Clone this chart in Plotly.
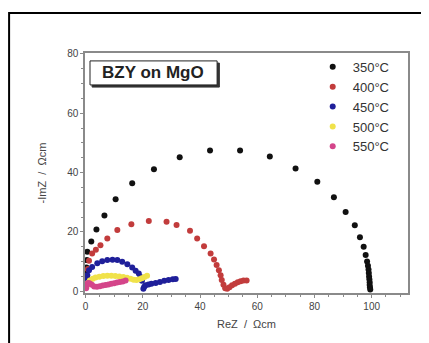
import plotly.graph_objects as go

# 350 °C
x350 = [0.2, 0.3, 0.4, 0.6, 2.0, 3.8, 6.6, 10.5, 16.3, 23.9, 32.9, 43.5, 54.0, 64.4, 73.4,
        81.0, 86.8, 90.9, 94.1, 95.9, 97.2, 97.9, 98.4, 98.7, 98.9, 99.0, 99.1, 99.2, 99.3,
        99.3, 99.4, 99.5]
y350 = [6.0, 8.0, 10.5, 13.3, 16.8, 20.8, 25.5, 31.0, 36.4, 41.1, 45.2, 47.4, 47.4, 45.4, 41.4,
        36.9, 31.7, 26.7, 22.2, 18.2, 15.0, 12.2, 10.0, 8.6, 7.3, 6.1, 5.0, 4.0, 3.0,
        2.1, 1.3, 0.6]
# 400 °C
x400 = [0.3, 0.5, 0.8, 1.2, 2.3, 3.6, 5.2, 7.6, 11.1, 16.0, 22.1, 28.3, 31.8, 36.5, 39.0,
        41.4, 43.7, 44.9, 45.8, 46.6, 47.2, 47.6, 48.2, 48.8, 49.5, 50.3, 51.2, 52.2, 53.2,
        54.2, 55.2, 56.3]
y400 = [3.0, 5.0, 7.5, 10.3, 12.7, 14.0, 15.5, 17.8, 20.6, 22.6, 23.7, 23.4, 22.3, 20.4, 17.8,
        15.2, 12.7, 10.7, 8.8, 7.1, 5.4, 3.8, 2.2, 1.0, 0.8, 1.3, 2.0, 2.5, 3.0,
        3.4, 3.6, 3.6]
# 450 °C
x450 = [0.2, 0.3, 0.6, 1.2, 2.3, 4.1, 5.8, 7.6, 9.4, 11.1, 12.8, 14.6, 16.3, 17.5, 18.6,
        19.2, 19.7, 20.2, 20.5, 21.0, 22.0, 23.0, 24.5, 26.0, 27.5, 29.0, 30.5, 31.5]
y450 = [2.5, 4.0, 5.4, 7.1, 8.2, 9.4, 10.1, 10.5, 10.6, 10.5, 9.9, 9.1, 8.0, 6.9, 6.0,
        4.8, 3.5, 0.8, 1.5, 2.0, 2.3, 2.5, 2.8, 3.1, 3.5, 3.8, 4.0, 4.1]
# 500 °C
x500 = [0.3, 0.8, 1.5, 2.5, 3.5, 4.8, 6.2, 7.6, 9.0, 10.4, 11.8, 13.2, 14.5, 15.7, 16.8,
        17.8, 18.8, 19.7, 20.6, 21.5]
y500 = [1.5, 2.8, 3.6, 4.2, 4.6, 4.9, 5.1, 5.2, 5.2, 5.1, 5.0, 4.8, 4.5, 4.2, 3.9,
        3.8, 4.0, 4.4, 4.8, 5.2]
# 550 °C
x550 = [0.2, 0.4, 0.7, 1.0, 1.5, 2.2, 3.0, 4.0, 5.0, 6.0, 7.0, 8.0, 9.0, 10.0, 11.0,
        12.0, 13.0, 14.0]
y550 = [1.0, 2.0, 2.6, 2.8, 2.6, 2.2, 1.6, 1.5, 1.7, 1.9, 2.1, 2.3, 2.5, 2.7, 2.9,
        3.1, 3.3, 3.6]

series = [
    ("350°C", x350, y350, "#111111"),
    ("400°C", x400, y400, "#c23c3c"),
    ("450°C", x450, y450, "#1f1f9a"),
    ("500°C", x500, y500, "#f0e24a"),
    ("550°C", x550, y550, "#d4458a"),
]

xticks = [0, 20, 40, 60, 80, 100]
yticks = [0, 20, 40, 60, 80]

FONT = "Liberation Sans, Arial"

fig = go.Figure()
for name, xs, ys, col in series:
    fig.add_trace(go.Scatter(x=xs, y=ys, mode="markers", name=name,
                             marker=dict(size=6, color=col, line=dict(width=0))))

axis_common = dict(showgrid=False, zeroline=False, showline=True, linecolor="#8a8a8a",
                   linewidth=1.5, mirror=True, ticks="outside", ticklen=3, tickcolor="#8a8a8a",
                   automargin=False,
                   tickfont=dict(family=FONT, size=10, color="#444444"),
                   minor=dict(ticks="outside", ticklen=2, tickcolor="#8a8a8a"))

fig.update_xaxes(range=[-0.2, 112.7], tickvals=xticks,
                 title=dict(text="ReZ  /  Ωcm", font=dict(family=FONT, size=11, color="#444444"), standoff=10),
                 **axis_common)
fig.update_yaxes(range=[-0.6, 80.3], tickvals=yticks,
                 title=dict(text="-ImZ  /  Ωcm", font=dict(family=FONT, size=11, color="#444444"), standoff=18),
                 **axis_common)

shapes = [
    # outer frame
    dict(type="rect", xref="paper", yref="paper", x0=-0.235, x1=1.0526, y0=-0.25, y1=1.1667,
         line=dict(color="black", width=2), fillcolor="rgba(0,0,0,0)", layer="above"),
    # label box shadow
    dict(type="rect", xref="paper", yref="paper", x0=0.022, x1=0.416, y0=0.858, y1=0.958,
         line=dict(color="#333333", width=1), fillcolor="#333333", layer="above"),
    # label box
    dict(type="rect", xref="paper", yref="paper", x0=0.0155, x1=0.409, y0=0.867, y1=0.967,
         line=dict(color="#222222", width=1), fillcolor="white", layer="above"),
]

fig.update_layout(
    width=421, height=335,
    margin=dict(l=77, r=21, t=45, b=50),
    paper_bgcolor="white", plot_bgcolor="white",
    showlegend=True,
    legend=dict(x=0.705, y=1.005, xanchor="left", yanchor="top", bgcolor="rgba(0,0,0,0)",
                font=dict(family=FONT, size=13, color="#333333"),
                itemwidth=30, tracegroupgap=0),
    shapes=shapes,
    annotations=[dict(text="<b>BZY on MgO</b>", xref="paper", yref="paper", x=0.212, y=0.917,
                      xanchor="center", yanchor="middle", showarrow=False,
                      font=dict(family=FONT, size=17, color="#222222"))],
)

fig.write_html("out.html")
